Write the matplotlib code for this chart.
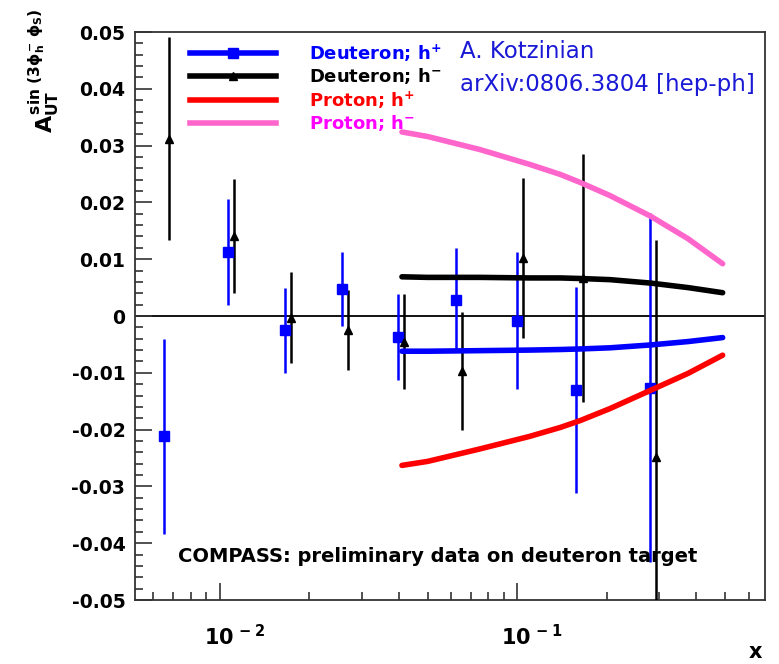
import matplotlib
matplotlib.use('Agg')
import matplotlib.pyplot as plt
from matplotlib.lines import Line2D
from matplotlib.ticker import LogLocator, NullFormatter, MultipleLocator

plt.rcParams['font.family'] = ['DejaVu Sans']
plt.rcParams['mathtext.fontset'] = 'custom'
plt.rcParams['mathtext.rm'] = 'DejaVu Sans:bold'
plt.rcParams['mathtext.bf'] = 'DejaVu Sans:bold'
plt.rcParams['mathtext.it'] = 'DejaVu Sans:bold'
plt.rcParams['mathtext.sf'] = 'DejaVu Sans:bold'

# COMPASS data points, deuteron target
dp_x = [0.00653, 0.01067, 0.0166, 0.0257, 0.0398, 0.0623, 0.0998, 0.158, 0.279]
dp_y = [-0.0212, 0.0113, -0.0025, 0.0047, -0.0037, 0.0029, -0.0008, -0.0130, -0.0126]
dp_err = [0.0172, 0.0093, 0.0075, 0.0065, 0.0075, 0.0091, 0.0121, 0.0181, 0.0307]

dm_x = [0.00675, 0.01117, 0.01738, 0.0270, 0.0418, 0.0655, 0.1045, 0.1667, 0.2917]
dm_y = [0.0312, 0.0141, -0.0003, -0.0025, -0.0045, -0.0097, 0.0102, 0.0067, -0.0249]
dm_err = [0.0179, 0.0100, 0.0080, 0.0070, 0.0083, 0.0104, 0.0141, 0.0218, 0.0382]

# model curves
curve_x = [0.041, 0.05, 0.075, 0.11, 0.14, 0.163, 0.205, 0.28, 0.375, 0.49]
deut_pos = [-0.0062, -0.0062, -0.0061, -0.0060, -0.0059, -0.0058, -0.0056, -0.0051, -0.0045, -0.0038]
deut_neg = [0.0069, 0.0068, 0.0068, 0.0067, 0.0067, 0.0066, 0.0064, 0.0058, 0.0050, 0.0041]
prot_pos = [-0.0263, -0.0256, -0.0234, -0.0212, -0.0196, -0.0184, -0.0163, -0.0131, -0.0101, -0.0069]
prot_neg = [0.0324, 0.0316, 0.0293, 0.0267, 0.0249, 0.0235, 0.0212, 0.0176, 0.0136, 0.0092]

legend_labels = [r'Deuteron; h$^{+}$', r'Deuteron; h$^{-}$', r'Proton; h$^{+}$', r'Proton; h$^{-}$']
legend_colors = ['#0000ff', 'black', '#ff0000', '#ff00ff']

yticks = [-0.05, -0.04, -0.03, -0.02, -0.01, 0, 0.01, 0.02, 0.03, 0.04, 0.05]
ytick_labels = ['-0.05', '-0.04', '-0.03', '-0.02', '-0.01', '0', '0.01', '0.02', '0.03', '0.04', '0.05']
xticks = [0.01, 0.1]
xtick_labels = [r'$\quad\,\,10^{\,-2}$', r'$\quad\,\,10^{\,-1}$']

fig = plt.figure(figsize=(7.79, 6.64), dpi=100)
ax = fig.add_axes([135 / 779, 1 - 600 / 664, 630 / 779, 568 / 664])

ax.axhline(0, color='black', lw=1.3, zorder=1)

ax.errorbar(dp_x, dp_y, yerr=dp_err, fmt='s', color='#0000ff', ms=6.5,
            elinewidth=1.8, capsize=0, zorder=3)
ax.errorbar(dm_x, dm_y, yerr=dm_err, fmt='^', color='black', ms=5.5,
            elinewidth=1.8, capsize=0, zorder=3)

ax.plot(curve_x, prot_neg, color='#ff66cc', lw=4, solid_capstyle='round', zorder=4)
ax.plot(curve_x, deut_neg, color='black', lw=4, solid_capstyle='round', zorder=4)
ax.plot(curve_x, deut_pos, color='#0000ff', lw=4, solid_capstyle='round', zorder=4)
ax.plot(curve_x, prot_pos, color='#ff0000', lw=4, solid_capstyle='round', zorder=4)

ax.set_xscale('log')
ax.set_xlim(0.0052, 0.68)
ax.set_ylim(-0.05, 0.05)

ax.set_yticks(yticks, ytick_labels, fontsize=13.5, fontweight='bold')
ax.yaxis.set_minor_locator(MultipleLocator(0.002))
ax.set_xticks(xticks, xtick_labels, fontsize=15)
ax.xaxis.set_minor_locator(LogLocator(base=10, subs=range(2, 10)))
ax.xaxis.set_minor_formatter(NullFormatter())

ax.tick_params(which='both', direction='in', top=False, right=False, width=1.2, color='#333333')
ax.tick_params(which='major', length=12)
ax.tick_params(which='minor', length=6)
ax.tick_params(axis='y', pad=7)
ax.tick_params(axis='x', pad=17)
for s in ax.spines.values():
    s.set_linewidth(1.3)
    s.set_color('#333333')

handles = [
    Line2D([], [], color='#0000ff', lw=4, marker='s', ms=7),
    Line2D([], [], color='black', lw=4, marker='^', ms=6),
    Line2D([], [], color='#ff0000', lw=4),
    Line2D([], [], color='#ff66cc', lw=4),
]
leg = ax.legend(handles, legend_labels, loc='upper left', bbox_to_anchor=(0.087, 0.982),
                frameon=False, prop={'weight': 'bold', 'size': 13},
                handlelength=4.8, handletextpad=1.8, labelspacing=0.16,
                borderpad=0, borderaxespad=0)
for t, c in zip(leg.get_texts(), legend_colors):
    t.set_color(c)

fig.text(460 / 779, 1 - 51 / 664, 'A. Kotzinian', color='#1a1ad6', fontsize=16.5, va='center')
fig.text(460 / 779, 1 - 84 / 664, 'arXiv:0806.3804 [hep-ph]', color='#1a1ad6', fontsize=16.5, va='center')
fig.text(178 / 779, 1 - 557 / 664, 'COMPASS: preliminary data on deuteron target',
         fontsize=14, fontweight='bold', va='center')
fig.text(755 / 779, 1 - 652 / 664, 'x', fontsize=15, fontweight='bold', ha='center', va='center')
fig.text(44 / 779, 1 - 71 / 664, r'$A_{UT}^{sin\ (3\phi_{h}^{-}\ \phi_{S})}$',
         rotation=90, ha='center', va='center', fontsize=16)

fig.savefig('out.png', dpi=100)
